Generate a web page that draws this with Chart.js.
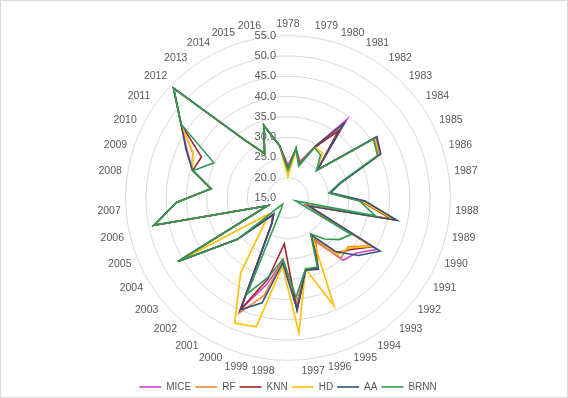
<!DOCTYPE html>
<html>
<head>
<meta charset="utf-8">
<script src="https://cdn.jsdelivr.net/npm/chart.js@4.4.1/dist/chart.umd.min.js"></script>
<style>
  html, body { margin: 0; padding: 0; background: #fff; }
  #wrap { width: 568px; height: 398px; box-sizing: border-box; border: 1px solid #d9d9d9; }
</style>
</head>
<body>
<div id="wrap"><canvas id="radar"></canvas></div>
<script>
const years = ['1978','1979','1980','1981','1982','1983','1984','1985','1986','1987',
  '1988','1989','1990','1991','1992','1993','1994','1995','1996','1997',
  '1998','1999','2000','2001','2002','2003','2004','2005','2006','2007',
  '2008','2009','2010','2011','2012','2013','2014','2015','2016'];

const mice = [23.1,27.2,24.5,29.4,39.2,25.0,41.3,40.0,28.6,25.5,
  33.8,41.8,20.6,40.3,36.5,35.5,27.5,33.8,33.2,41.5,
  30.5,36.9,44.9,22.4,20.3,31.1,46.3,20.4,48.7,42.5,
  34.1,39.5,42.5,47.0,54.1,33.0,27.4,33.9,28.1];
const rf = [22.6,27.2,24.2,29.2,36.8,25.0,41.0,39.8,28.4,25.4,
  33.0,41.0,20.2,38.5,34.0,34.7,27.8,34.0,33.3,41.0,
  30.2,39.8,45.9,22.4,20.3,31.1,46.3,20.4,48.7,42.5,
  34.1,39.6,41.0,47.0,54.1,33.0,27.4,33.9,28.1];
const knn = [22.4,27.0,23.9,29.0,35.6,25.1,41.0,39.8,28.4,25.3,
  33.0,41.2,19.8,39.0,35.0,33.0,26.5,33.8,33.2,42.8,
  26.3,35.5,44.9,22.6,20.6,31.1,46.3,20.4,48.7,42.5,
  34.1,39.4,38.6,47.0,54.1,33.0,27.4,33.9,28.1];
const hd = [20.3,26.8,23.7,29.2,29.0,25.0,41.0,39.8,28.4,25.3,
  33.2,41.7,20.4,38.8,34.5,33.5,26.2,43.9,33.0,48.4,
  31.8,47.7,48.5,36.8,24.2,21.3,46.3,20.4,48.7,42.5,
  34.1,39.6,40.9,47.0,54.1,33.0,27.4,33.9,28.1];
const aa = [22.2,27.3,23.6,29.4,38.0,25.0,41.6,40.3,28.7,25.5,
  34.0,42.4,20.6,41.2,37.4,32.6,25.8,34.1,33.3,42.6,
  31.0,41.6,44.9,22.4,20.3,31.1,46.3,20.4,48.7,42.5,
  34.1,39.5,42.8,47.0,54.1,33.0,27.4,33.9,28.1];
const brnn = [21.8,27.5,23.3,29.0,28.3,24.7,40.6,39.4,28.2,25.2,
  32.6,37.0,17.0,33.0,31.2,28.5,25.4,33.5,33.0,39.6,
  30.1,35.0,40.7,18.0,17.0,31.1,46.3,20.4,48.7,42.5,
  34.1,39.3,35.2,47.0,54.1,33.0,27.4,33.9,28.1];

const tickLabels = ['15.0','20.0','25.0','30.0','35.0','40.0','45.0','50.0','55.0'];

const seriesNames = ['MICE', 'RF', 'KNN', 'HD', 'AA', 'BRNN'];
const seriesData = [mice, rf, knn, hd, aa, brnn];
const seriesColors = ['#cc44cc', '#f0883a', '#a3232b', '#ffc000', '#34507a', '#2f9a55'];

// axis values sit left of the vertical axis, like Excel does (the 15.0 one too)
const tickLabelPlugin = {
  id: 'tickLabels',
  beforeDatasetsDraw(chart) {
    const s = chart.scales.r;
    const ctx = chart.ctx;
    ctx.save();
    ctx.font = '11px "Liberation Sans", Arial, sans-serif';
    ctx.fillStyle = '#595959';
    ctx.textAlign = 'right';
    ctx.textBaseline = 'middle';
    s.ticks.forEach((t, i) => {
      const d = s.getDistanceFromCenterForValue(t.value);
      ctx.fillText(tickLabels[i], s.xCenter - 12, s.yCenter - d);
    });
    ctx.restore();
  }
};

new Chart(document.getElementById('radar'), {
  type: 'radar',
  data: {
    labels: years,
    datasets: seriesNames.map((name, i) => ({
      label: name,
      data: seriesData[i],
      borderColor: seriesColors[i],
      backgroundColor: seriesColors[i],
      borderWidth: 1.6,
      fill: false,
      pointRadius: 0,
      pointHoverRadius: 0,
      tension: 0,
      order: seriesNames.length - i
    }))
  },
  options: {
    responsive: true,
    maintainAspectRatio: false,
    animation: false,
    layout: { padding: { top: 17, left: 8, right: 0, bottom: -5 } },
    scales: {
      r: {
        min: 15,
        max: 55,
        ticks: { stepSize: 5, display: false },
        grid: { color: '#d9d9d9', circular: true, lineWidth: 1 },
        angleLines: { display: false },
        pointLabels: {
          color: '#595959',
          padding: 5,
          font: { family: '"Liberation Sans", Arial, sans-serif', size: 10.5 }
        }
      }
    },
    plugins: {
      legend: {
        position: 'bottom',
        labels: {
          usePointStyle: true,
          pointStyle: 'line',
          pointStyleWidth: 22,
          padding: 4,
          color: '#595959',
          font: { family: '"Liberation Sans", Arial, sans-serif', size: 10 },
          sort: (a, b) => a.datasetIndex - b.datasetIndex
        }
      },
      tooltip: { enabled: false }
    }
  },
  plugins: [tickLabelPlugin]
});
</script>
</body>
</html>
